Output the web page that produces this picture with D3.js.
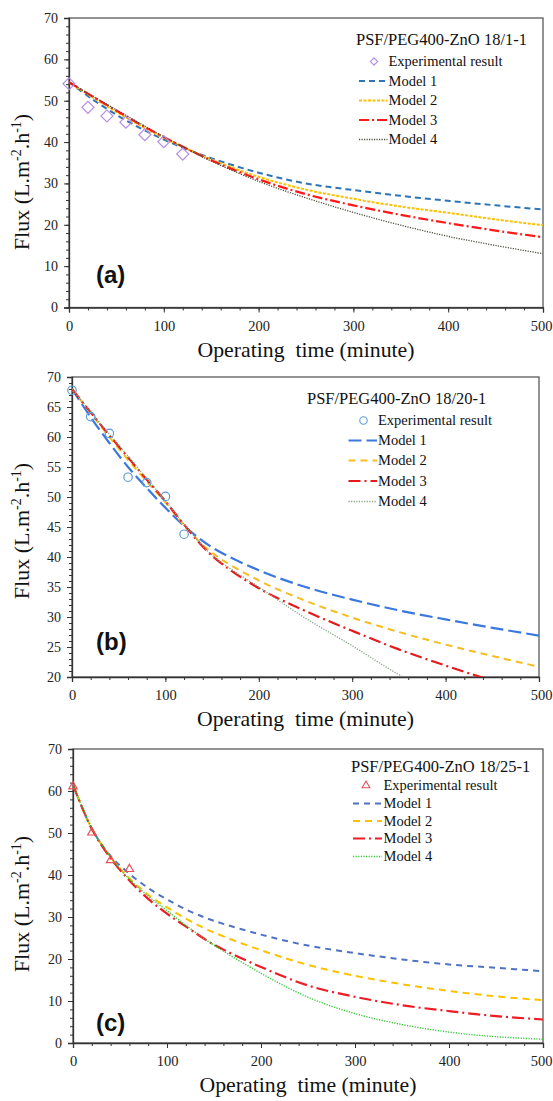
<!DOCTYPE html>
<html><head><meta charset="utf-8">
<script src="https://cdn.jsdelivr.net/npm/d3@7"></script>
<style>
body{margin:0;background:#fff}svg{display:block}
svg text{font-family:"Liberation Serif","Times New Roman",Tinos,"DejaVu Serif",serif;}
svg text.lab{font-family:"Liberation Sans",Arial,"DejaVu Sans",sans-serif;font-weight:bold;}
</style>
</head><body><svg id="chart" width="553" height="1101"></svg>
<script>
// ---------- DATA ----------
const xTickValues = [0,100,200,300,400,500];
const modelNames = ["Model 1","Model 2","Model 3","Model 4"];
const expLabel = "Experimental result";
const xTitle = "Operating  time (minute)";

// Panel (a)
const titleA = "PSF/PEG400-ZnO 18/1-1";
const timesA = [0,25,50,75,100,125,150,200,250,300,350,400,450,500];
const expTimesA = [0,20,40,60,80,100,120];
const expA = [54.1,48.4,46.3,44.8,41.8,40.1,37.1];
const modelA1 = [54.5,50.3,46.6,43.4,40.6,38.2,36.1,32.6,30.0,28.4,27.0,25.8,24.7,23.7];
const modelA2 = [54.5,50.8,47.3,44.0,41.0,38.3,35.8,31.6,28.5,26.3,24.4,22.9,21.3,19.9];
const modelA3 = [54.5,51.0,47.6,44.3,41.2,38.3,35.6,31.0,27.4,24.7,22.4,20.4,18.6,17.0];
const modelA4 = [54.5,51.1,47.8,44.5,41.3,38.3,35.4,30.5,26.5,23.0,19.9,17.2,15.0,13.0];

// Panel (b)
const titleB = "PSF/PEG400-ZnO 18/20-1";
const timesB = [0,20,40,60,80,100,120,150,200,250,300,350,400,450,500];
const expTimesB = [0,20,40,60,80,100,120];
const expB = [67.8,63.4,60.6,53.3,52.4,50.1,43.8];
const modelB1 = [68,63.3,59.0,55.0,51.5,48.2,45.2,41.6,37.8,35.0,32.9,31.1,29.6,28.2,26.9];
const modelB2 = [68,64.0,60.0,56.2,52.6,49.1,45.3,40.7,36.1,32.7,29.9,27.5,25.4,23.5,21.7];
const modelB3 = [68,64.1,60.3,56.6,52.9,49.3,45.4,40.2,34.8,31.0,27.7,24.6,21.9,19.4,17.2];
const modelB4 = [68,64.2,60.5,56.8,53.1,49.4,45.5,40.3,35.0,29.8,25.2,20.4,16.5,13.0,10.0];

// Panel (c)
const titleC = "PSF/PEG400-ZnO 18/25-1";
const timesC = [0,20,40,60,80,100,125,150,200,250,300,350,400,450,500];
const expTimesC = [0,20,40,60];
const expC = [61.1,50.1,43.5,41.4];
const modelC1 = [61.5,51.0,44.5,40.3,36.9,34.2,31.3,29.1,25.8,23.2,21.4,19.9,18.7,17.9,17.1];
const modelC2 = [61.5,51.0,44.2,39.2,35.3,32.3,29.0,26.3,22.1,18.6,16.0,14.0,12.4,11.1,10.2];
const modelC3 = [61.5,51.0,44.0,38.7,34.3,30.8,27.0,23.4,18.1,13.7,11.0,9.0,7.6,6.4,5.6];
const modelC4 = [61.5,51.2,44.2,39.0,35.0,31.5,27.2,23.3,16.6,10.9,7.0,4.4,2.6,1.5,0.9];

// ---------- DRAWING ----------
const svg = d3.select("#chart");

const panels = [
  {id:"a", label:"(a)", title:titleA, times:timesA, expT:expTimesA, exp:expA,
   models:[modelA1,modelA2,modelA3,modelA4],
   left:69, right:543, top:18, bottom:307.5, yDom:[0,70], yMajor:10, yMinor:2,
   labelY:283, yTitleC:182,
   marker:{type:"diamond", color:"#b48ee6", size:72, lsize:26},
   styles:[{c:"#2e75b6",w:2,d:"6,4"},{c:"#ffc000",w:2,d:"3,1.5"},{c:"#ff1a1a",w:2.2,d:"10,3,2,3"},{c:"#4d4d40",w:1.3,d:"1.2,1.3"}],
   leg:{tx:356, ty:45, mx:374, x0:359, x1:387.5, textX:388.5, ys:[66,85.5,105,124.5,144]}},
  {id:"b", label:"(b)", title:titleB, times:timesB, expT:expTimesB, exp:expB,
   models:[modelB1,modelB2,modelB3,modelB4],
   left:72, right:539, top:377, bottom:677, yDom:[20,70], yMajor:5, yMinor:1,
   labelY:650, yTitleC:531,
   marker:{type:"circle", color:"#5b9bd5", size:56, lsize:44},
   styles:[{c:"#3a78e0",w:2.2,d:"13,5"},{c:"#f5bd1f",w:2,d:"7,5"},{c:"#e41a1c",w:2.2,d:"12,4,2,4"},{c:"#86a084",w:1.3,d:"1.2,1.4"}],
   leg:{tx:307, ty:403.5, mx:363.5, x0:348.5, x1:377, textX:378, ys:[425,445,465,485.5,506]}},
  {id:"c", label:"(c)", title:titleC, times:timesC, expT:expTimesC, exp:expC,
   models:[modelC1,modelC2,modelC3,modelC4],
   left:73, right:543, top:749, bottom:1043, yDom:[0,70], yMajor:10, yMinor:2,
   labelY:1031, yTitleC:904,
   marker:{type:"triangle", color:"#e8505a", size:30, lsize:26},
   styles:[{c:"#4f73c2",w:2,d:"6,5"},{c:"#ffc000",w:2,d:"7,5"},{c:"#ee1c25",w:2.2,d:"12,4,2,4"},{c:"#33c433",w:1.4,d:"1.2,1.4"}],
   leg:{tx:351, ty:772, mx:366, x0:353, x1:382, textX:383.5, ys:[790,808,825.5,843,861]}}
];

function markerPath(type, size){
  if(type==="diamond") return d3.symbol().type(d3.symbolSquare).size(size)();
  if(type==="circle") return d3.symbol().type(d3.symbolCircle).size(size)();
  return d3.symbol().type(d3.symbolTriangle).size(size)();
}

panels.forEach(p=>{
  const g = svg.append("g");
  const x = d3.scaleLinear().domain([0,500]).range([p.left,p.right]);
  const y = d3.scaleLinear().domain(p.yDom).range([p.bottom,p.top]);

  g.append("clipPath").attr("id","clip"+p.id).append("rect")
    .attr("x",p.left).attr("y",p.top).attr("width",p.right-p.left).attr("height",p.bottom-p.top);

  g.append("rect").attr("x",p.left).attr("y",p.top)
    .attr("width",p.right-p.left).attr("height",p.bottom-p.top)
    .attr("fill","none").attr("stroke","#5a5a5a").attr("stroke-width",1.3);

  const xMinor = g.append("g").attr("transform",`translate(0,${p.bottom})`)
    .call(d3.axisBottom(x).tickValues(d3.range(0,501,20)).tickSize(3).tickFormat(""));
  xMinor.select(".domain").remove();
  const xAx = g.append("g").attr("transform",`translate(0,${p.bottom})`)
    .call(d3.axisBottom(x).tickValues(xTickValues).tickSize(5).tickPadding(8));
  const yMinor = g.append("g").attr("transform",`translate(${p.left},0)`)
    .call(d3.axisLeft(y).tickValues(d3.range(p.yDom[0],p.yDom[1]+0.001,p.yMinor)).tickSize(3).tickFormat(""));
  yMinor.select(".domain").remove();
  const yAx = g.append("g").attr("transform",`translate(${p.left},0)`)
    .call(d3.axisLeft(y).tickValues(d3.range(p.yDom[0],p.yDom[1]+0.001,p.yMajor)).tickSize(5).tickPadding(6));

  [xAx,yAx,xMinor,yMinor].forEach(a=>{
    a.attr("font-family",null);
    a.selectAll(".domain").attr("stroke","#333").attr("stroke-width",1.3);
    a.selectAll(".tick line").attr("stroke","#333").attr("stroke-width",1);
    a.selectAll("text").attr("fill","#222");
  });
  xAx.selectAll("text").attr("font-size",14.5)
    .attr("text-anchor",d=>d===500?"end":"middle")
    .attr("x",d=>d===500?(552-p.right):0);
  yAx.selectAll("text").attr("font-size",14);

  const line = d3.line().x((d,i)=>x(p.times[i])).y(d=>y(d)).curve(d3.curveCatmullRom.alpha(0.5));
  const lg = g.append("g").attr("clip-path",`url(#clip${p.id})`);
  p.models.forEach((m,k)=>{
    const s = p.styles[k];
    lg.append("path").datum(m).attr("d",line).attr("fill","none")
      .attr("stroke",s.c).attr("stroke-width",s.w).attr("stroke-dasharray",s.d);
  });

  const mp = markerPath(p.marker.type, p.marker.size);
  g.append("g").selectAll("path").data(p.exp).join("path")
    .attr("d",mp)
    .attr("transform",(d,i)=>`translate(${x(p.expT[i])},${y(d)})`+(p.marker.type==="diamond"?" rotate(45)":""))
    .attr("fill","none").attr("stroke",p.marker.color).attr("stroke-width",1.2);

  const L = p.leg;
  g.append("text").attr("x",L.tx).attr("y",L.ty).text(p.title)
    .attr("font-size",16.5).attr("fill","#111");
  g.append("path").attr("d",markerPath(p.marker.type,p.marker.lsize))
    .attr("transform",`translate(${L.mx},${L.ys[0]-4.5})`+(p.marker.type==="diamond"?" rotate(45)":""))
    .attr("fill","none").attr("stroke",p.marker.color).attr("stroke-width",1.1);
  g.append("text").attr("x",L.textX).attr("y",L.ys[0]).text(expLabel)
    .attr("font-size",14.5).attr("fill","#111");
  modelNames.forEach((nm,k)=>{
    const s = p.styles[k], yy = L.ys[k+1];
    g.append("line").attr("x1",L.x0).attr("x2",L.x1).attr("y1",yy-4.5).attr("y2",yy-4.5)
      .attr("stroke",s.c).attr("stroke-width",s.w).attr("stroke-dasharray",s.d);
    g.append("text").attr("x",L.textX).attr("y",yy).text(nm)
      .attr("font-size",14.5).attr("fill","#111");
  });

  g.append("text").attr("class","lab").attr("x",96).attr("y",p.labelY).text(p.label)
    .attr("font-size",24).attr("fill","#111");

  g.append("text").attr("x",(p.left+p.right)/2).attr("y",p.bottom+49)
    .attr("text-anchor","middle").style("white-space","pre").text(xTitle)
    .attr("font-size",21).attr("textLength",217).attr("lengthAdjust","spacingAndGlyphs")
    .attr("fill","#111");

  const yt = g.append("text").attr("transform",`translate(29,${p.yTitleC}) rotate(-90)`)
    .attr("text-anchor","middle").attr("font-size",22).attr("fill","#111");
  yt.append("tspan").text("Flux (L.m");
  yt.append("tspan").attr("font-size",14).attr("dy",-8).text("-2");
  yt.append("tspan").attr("dy",8).text(".h");
  yt.append("tspan").attr("font-size",14).attr("dy",-8).text("-1");
  yt.append("tspan").attr("dy",8).text(")");
});
</script>
</body></html>
